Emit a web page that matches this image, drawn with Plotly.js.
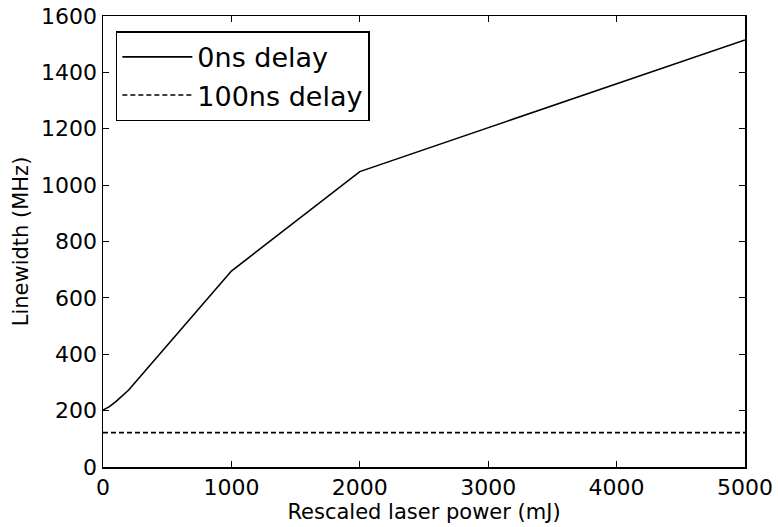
<!DOCTYPE html>
<html>
<head>
<meta charset="utf-8">
<script src="https://cdn.plot.ly/plotly-3.0.1.min.js"></script>
<style>html,body{margin:0;padding:0;background:#fff;}#chart{width:778px;height:527px;}</style>
</head>
<body>
<div id="chart"></div>
<script>
var power0 = [0, 50, 100, 150, 200, 1000, 2000, 5000];
var width0 = [202, 214, 232, 251, 273, 695, 1048, 1515];
var power100 = [0, 5000];
var width100 = [122, 122];
var xTicks = [0, 1000, 2000, 3000, 4000, 5000];
var yTicks = [0, 200, 400, 600, 800, 1000, 1200, 1400, 1600];

var font = 'DejaVu Sans, sans-serif';
var traces = [
  {x: power0, y: width0, mode: 'lines', name: '0ns delay', line: {color: '#000', width: 1.6}},
  {x: power100, y: width100, mode: 'lines', name: '100ns delay', line: {color: '#000', width: 1.6, dash: '5px,3px'}}
];
var axisCommon = {
  showgrid: false, zeroline: false, showline: true, linecolor: '#000', linewidth: 1.5,
  mirror: 'ticks', ticks: 'inside', ticklen: 6, tickwidth: 1, tickcolor: '#000',
  tickfont: {family: font, size: 22, color: '#000'}
};
var layout = {
  width: 778, height: 527,
  margin: {l: 103, r: 33, t: 16, b: 60},
  paper_bgcolor: '#fff', plot_bgcolor: '#fff',
  showlegend: true,
  legend: {x: 0.02, y: 0.966, xanchor: 'left', yanchor: 'top', bgcolor: '#fff',
    bordercolor: '#000', borderwidth: 1.5, font: {family: font, size: 27, color: '#000'},
    tracegroupgap: 0, itemwidth: 70},
  xaxis: Object.assign({}, axisCommon, {range: [0, 5000], tickvals: xTicks, ticktext: xTicks.map(String),
    title: {text: 'Rescaled laser power (mJ)', font: {family: font, size: 21, color: '#000'}, standoff: 4}}),
  yaxis: Object.assign({}, axisCommon, {range: [0, 1600], tickvals: yTicks, ticktext: yTicks.map(String),
    title: {text: 'Linewidth (MHz)', font: {family: font, size: 21, color: '#000'}, standoff: 6}})
};
Plotly.newPlot('chart', traces, layout, {displayModeBar: false, staticPlot: true});
</script>
</body>
</html>
